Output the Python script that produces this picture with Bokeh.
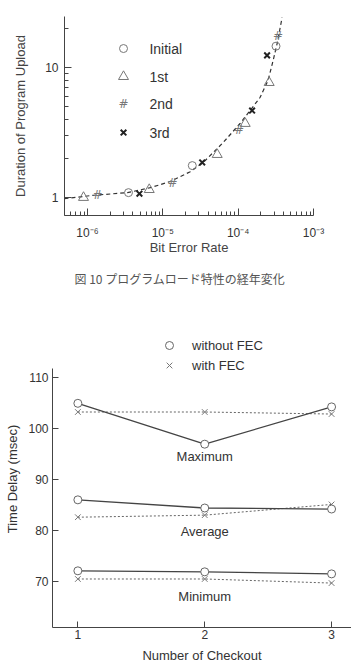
import math
from bokeh.plotting import figure
from bokeh.models import (FixedTicker, CustomJSTickFormatter, BasicTickFormatter, Label,
                          Legend, LegendItem, Range1d, Title)
from bokeh.layouts import column
from bokeh.embed import file_html
from bokeh.resources import INLINE
from bokeh.core.properties import value

# ---------------- Figure 10 data (Bit Error Rate vs Duration) ----------------
ber_initial = [3.5e-6, 2.46e-5, 3.18e-4]
dur_initial = [1.09, 1.76, 14.6]
ber_1st = [8.85e-7, 6.6e-6, 5.27e-5, 1.24e-4, 2.58e-4]
dur_1st = [1.0, 1.15, 2.14, 3.71, 7.66]
ber_2nd = [1.36e-6, 1.34e-5, 1.03e-4, 3.39e-4]
dur_2nd = [1.05, 1.30, 3.33, 17.6]
ber_3rd = [4.89e-6, 3.33e-5, 1.53e-4, 2.42e-4]
dur_3rd = [1.07, 1.86, 4.67, 12.4]
ber_curve = [4.95e-7, 1.2e-6, 3.39e-6, 6.83e-6, 1.26e-5, 2.31e-5, 3.44e-5, 6.33e-5,
             1.06e-4, 1.44e-4, 1.95e-4, 2.49e-4, 2.91e-4, 3.29e-4, 3.83e-4]
dur_curve = [0.98, 1.04, 1.09, 1.19, 1.33, 1.58, 1.86, 2.65,
             3.71, 4.67, 5.88, 7.94, 11.3, 15.3, 24.2]
series_names = ["Initial", "1st", "2nd", "3rd"]
caption = "図 10 プログラムロード特性の経年変化"

# ---------------- Time delay data ----------------
checkout = [1, 2, 3]
max_without = [104.9, 96.9, 104.2]
max_with = [103.2, 103.2, 102.8]
avg_without = [86.0, 84.4, 84.2]
avg_with = [82.6, 83.0, 85.1]
min_without = [72.1, 71.9, 71.5]
min_with = [70.5, 70.5, 69.7]
group_labels = ["Maximum", "Average", "Minimum"]
group_label_y = [94.4, 79.8, 67.1]
y_ticks_b = [70, 80, 90, 100, 110]

FONT = "Liberation Sans"
TXT = "#333333"
AX = "#444444"

# ================= Top chart =================
x0, x1 = 4.95e-7, 1e-3
y0, y1 = 0.727, 24.7
p1 = figure(width=351, height=300, x_axis_type="log", y_axis_type="log",
            x_range=Range1d(x0, x1), y_range=Range1d(y0, y1),
            output_backend="svg", toolbar_location=None,
            min_border_left=64, min_border_right=38, min_border_top=16, min_border_bottom=85)
p1.outline_line_color = None
p1.grid.visible = False

xmaj = [1e-6, 1e-5, 1e-4, 1e-3]
xmin = [k * 10.0 ** e for e in range(-7, -3) for k in range(2, 10)]
p1.xaxis.ticker = FixedTicker(ticks=xmaj, minor_ticks=xmin)
p1.yaxis.ticker = FixedTicker(ticks=[1, 10], minor_ticks=[2, 3, 4, 5, 6, 7, 8, 9, 20])
p1.xaxis.formatter = CustomJSTickFormatter(code="""
const sup = {'-':'\u207b','0':'\u2070','1':'\u00b9','2':'\u00b2','3':'\u00b3','4':'\u2074','5':'\u2075','6':'\u2076','7':'\u2077','8':'\u2078','9':'\u2079'};
const e = Math.round(Math.log10(tick));
return '10' + String(e).split('').map(c => sup[c]).join('');
""")
p1.yaxis.formatter = BasicTickFormatter()
for ax in (p1.xaxis, p1.yaxis):
    ax.major_tick_in = 7
    ax.major_tick_out = 0
    ax.minor_tick_in = 4
    ax.minor_tick_out = 0
    ax.axis_line_color = AX
    ax.major_tick_line_color = AX
    ax.minor_tick_line_color = AX
    ax.major_label_text_font = FONT
    ax.major_label_text_font_size = "12px"
    ax.major_label_text_color = TXT
    ax.axis_label_text_font = FONT
    ax.axis_label_text_font_size = "13px"
    ax.axis_label_text_font_style = "normal"
    ax.axis_label_text_color = "#444444"
p1.xaxis.axis_label = "Bit Error Rate"
p1.yaxis.axis_label = "Duration of Program Upload"
p1.xaxis.major_label_standoff = 10
p1.xaxis.axis_label_standoff = -3
p1.yaxis.major_label_standoff = 6
p1.yaxis.axis_label_standoff = 14

p1.line(ber_curve, dur_curve, line_color="#333333", line_width=1.2, line_dash="4 3")
p1.scatter(ber_initial, dur_initial, marker="circle", size=8, line_color="#777777",
           fill_alpha=0, line_width=1)
p1.scatter(ber_1st, dur_1st, marker="triangle", size=10, line_color="#777777",
           fill_alpha=0, line_width=1)
p1.text(ber_2nd, dur_2nd, text=value("#"), text_align="center", text_baseline="middle",
        text_font=value("DejaVu Sans"), text_font_size="12px", text_color="#777777")
p1.scatter(ber_3rd, dur_3rd, marker="x", size=8, line_color="#222222", line_width=2)

# manual legend (positions as fractions of the frame)
def lx(f):
    return 10 ** (math.log10(x0) + f * (math.log10(x1) - math.log10(x0)))
def ly(f):
    return 10 ** (math.log10(y0) + f * (math.log10(y1) - math.log10(y0)))

rows = [0.839, 0.698, 0.558, 0.417]
mx, tx = lx(0.237), lx(0.341)
p1.scatter([mx], [ly(rows[0])], marker="circle", size=8, line_color="#777777", fill_alpha=0)
p1.scatter([mx], [ly(rows[1])], marker="triangle", size=10, line_color="#777777", fill_alpha=0)
p1.text([mx], [ly(rows[2])], text=value("#"), text_align="center", text_baseline="middle",
        text_font=value("DejaVu Sans"), text_font_size="12px", text_color="#777777")
p1.scatter([mx], [ly(rows[3])], marker="x", size=8, line_color="#222222", line_width=2)
p1.text([tx] * 4, [ly(r) for r in rows], text=series_names, text_align="left",
        text_baseline="middle", text_font=value(FONT), text_font_size="14px", text_color=TXT)

p1.add_layout(Title(text=caption, align="left", offset=10, standoff=21,
                    text_font="Noto Sans CJK JP", text_font_size="12px",
                    text_font_style="normal", text_color="#555555"), "below")

# ================= Bottom chart =================
bx0, bx1 = 0.8, 3.157
by0, by1 = 61.0, 119.16
axis_top = 111.8
p2 = figure(width=351, height=365, x_range=Range1d(bx0, bx1), y_range=Range1d(by0, by1),
            output_backend="svg", toolbar_location=None,
            min_border_left=52, min_border_right=0, min_border_top=30, min_border_bottom=37)
p2.outline_line_color = None
p2.grid.visible = False
p2.xaxis.ticker = FixedTicker(ticks=checkout)
p2.yaxis.ticker = FixedTicker(ticks=y_ticks_b)
p2.yaxis.bounds = (by0, axis_top)
for ax in (p2.xaxis, p2.yaxis):
    ax.major_tick_in = 6
    ax.major_tick_out = 0
    ax.minor_tick_line_color = None
    ax.axis_line_color = AX
    ax.major_tick_line_color = AX
    ax.major_label_text_font = FONT
    ax.major_label_text_font_size = "12px"
    ax.major_label_text_color = TXT
    ax.axis_label_text_font = FONT
    ax.axis_label_text_font_size = "13px"
    ax.axis_label_text_font_style = "normal"
    ax.axis_label_text_color = TXT
p2.xaxis.axis_label = "Number of Checkout"
p2.yaxis.axis_label = "Time Delay (msec)"
p2.xaxis.major_label_standoff = 2
p2.xaxis.axis_label_standoff = 6
p2.yaxis.major_label_standoff = 4
p2.yaxis.axis_label_standoff = 5

circ_rs = []
x_rs = []
for yw, yf in ((max_without, max_with), (avg_without, avg_with), (min_without, min_with)):
    p2.line(checkout, yf, line_color="#666666", line_width=1, line_dash="2 2")
    p2.line(checkout, yw, line_color="#444444", line_width=1.3)
    x_rs.append(p2.scatter(checkout, yf, marker="x", size=8, line_color="#777777", line_width=1))
    circ_rs.append(p2.scatter(checkout, yw, marker="circle", size=8, line_color="#666666",
                              fill_color="white", line_width=1))

for t, yy in zip(group_labels, group_label_y):
    p2.add_layout(Label(x=2.0, y=yy, text=t, text_align="center", text_baseline="middle",
                        text_font=FONT, text_font_size="13px", text_color=TXT))

leg = Legend(items=[LegendItem(label="without FEC", renderers=[circ_rs[0]]),
                    LegendItem(label="with FEC", renderers=[x_rs[0]])],
             location=(107, 252), padding=0, margin=0, spacing=0,
             glyph_width=20, glyph_height=20, label_standoff=13,
             label_text_font=FONT, label_text_font_size="13px", label_text_color=TXT,
             background_fill_alpha=0, border_line_alpha=0)
p2.add_layout(leg)

for p in (p1, p2):
    if "frame_align" in p.properties():
        p.frame_align = False

layout = column(p1, p2, spacing=0)
with open("out.html", "w", encoding="utf-8") as f:
    f.write(file_html(layout, INLINE))
